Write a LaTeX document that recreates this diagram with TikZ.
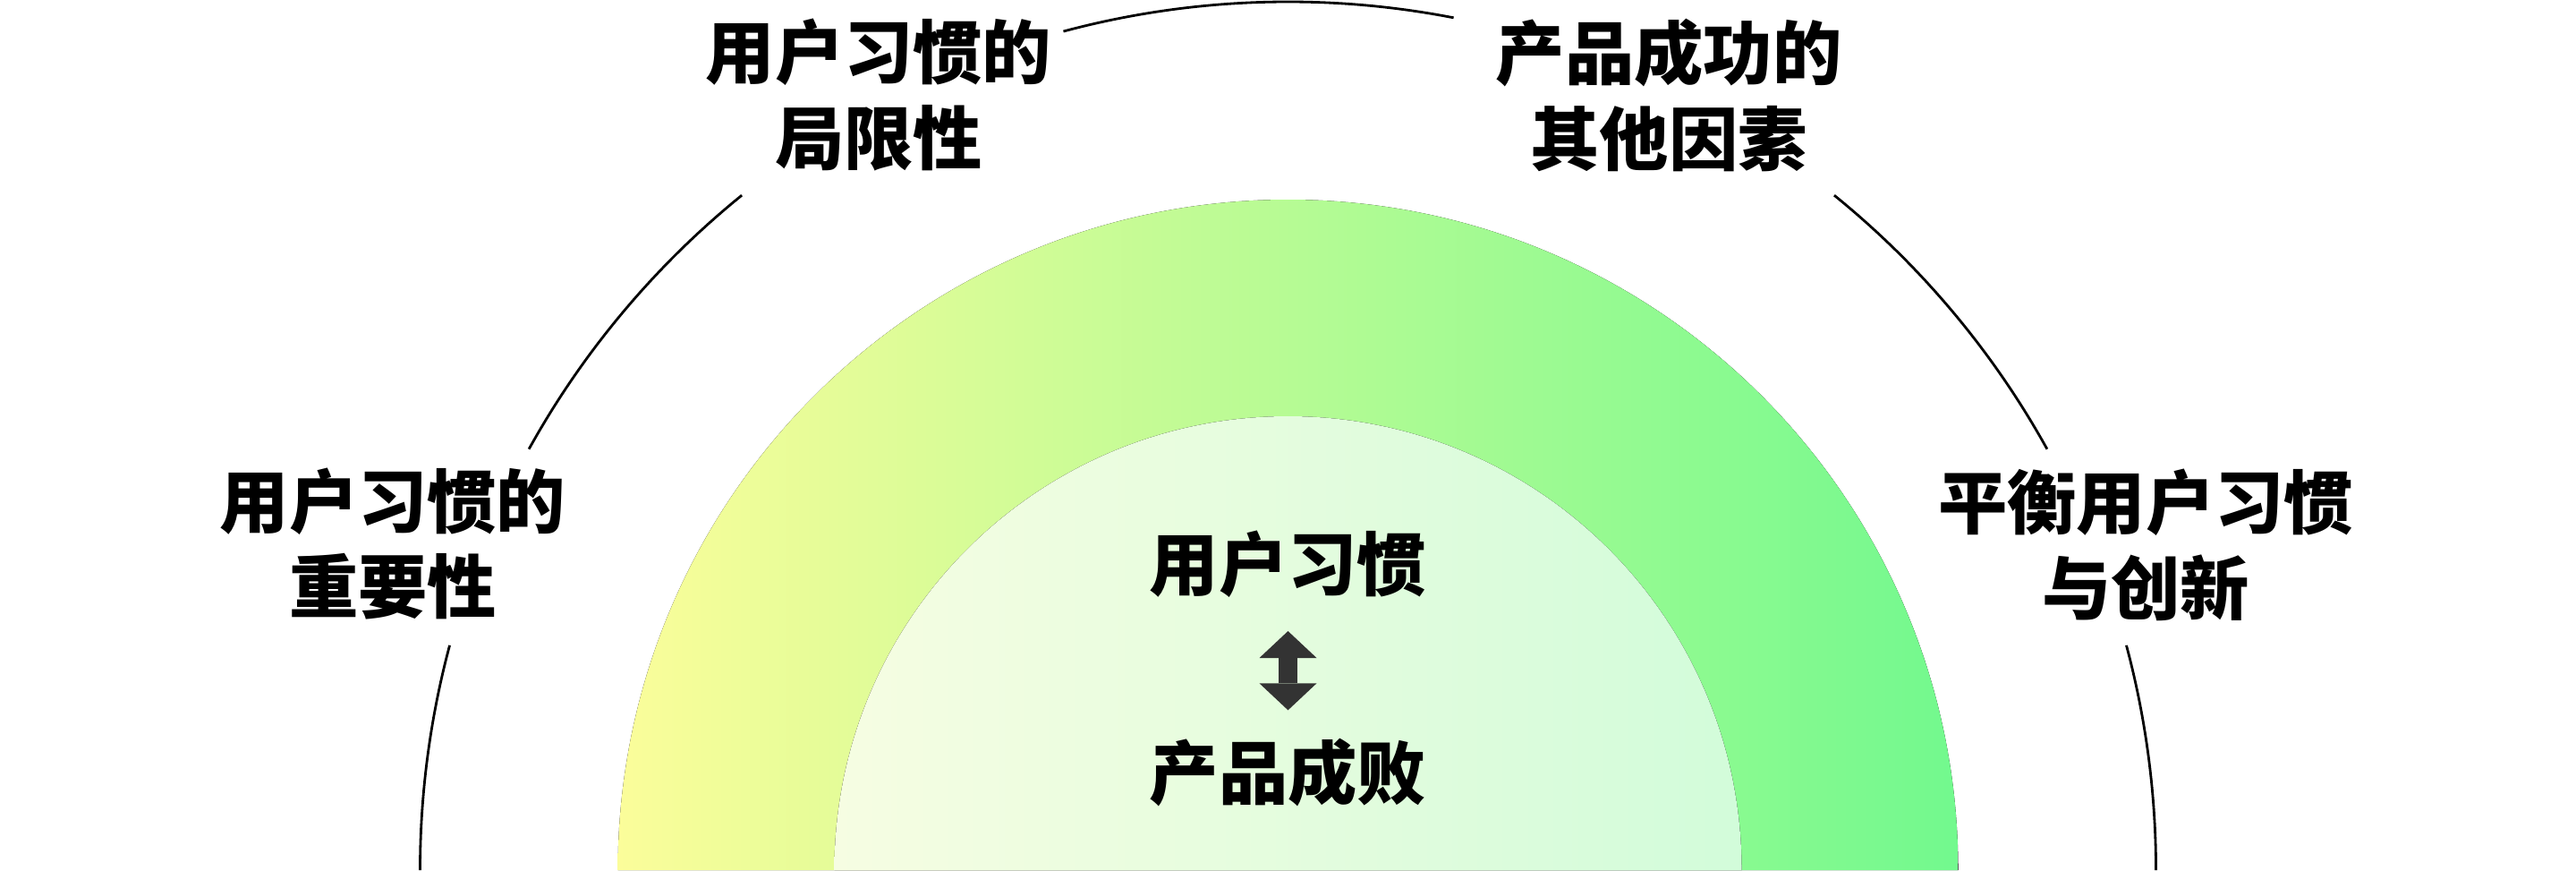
\documentclass[tikz,border=0pt]{standalone}
\usepackage{fontspec}
\usepackage{xcolor}
\usetikzlibrary{arrows.meta,positioning,calc}
\newfontfamily\cjk{Noto Sans CJK SC}
\definecolor{bandleft}{RGB}{251,253,154}
\definecolor{bandright}{RGB}{114,249,142}
\definecolor{coreleft}{RGB}{246,253,226}
\definecolor{coreright}{RGB}{210,252,218}
\definecolor{arrowgray}{RGB}{51,51,51}
\tikzset{
  lbl/.style={font=\cjk\bfseries\fontsize{22pt}{27.3pt}\selectfont, align=center, inner sep=0pt},
  ringline/.style={draw=black, line width=0.8pt},
  dblarrow/.style={arrowgray, line width=2.1mm,
    {Triangle[width=6.4mm,length=3mm,line width=0pt]}-{Triangle[width=6.4mm,length=3mm,line width=0pt]}}
}
\begin{document}
\begin{tikzpicture}
  \useasboundingbox (0,0) rectangle (28.79,9.72);
  \coordinate (O) at (14.395,0);

  % Colour rings
  \fill[left color=bandleft, right color=bandright]
    ([shift={(0:7.49)}]O) arc[start angle=0, end angle=180, radius=7.49] -- cycle;
  \fill[left color=coreleft, right color=coreright]
    ([shift={(0:5.07)}]O) arc[start angle=0, end angle=180, radius=5.07] -- cycle;

  % Outer ring, broken at the labels
  \foreach \a/\b in {0/15, 29/51, 79/105, 129/151, 165/180}
    \draw[ringline] ([shift={(\a:9.70)}]O) arc[start angle=\a, end angle=\b, radius=9.70];

  % Labels round the ring
  \node[lbl] (limits) at (9.82,8.66) {用户习惯的\\局限性};
  \node[lbl] (factors) at (18.65,8.66) {产品成功的\\其他因素};
  \node[lbl] (importance) at (4.39,3.645) {用户习惯的\\重要性};
  \node[lbl] (balance) at (23.98,3.63) {平衡用户习惯\\与创新};

  % Core
  \node[lbl] (habit) at (14.395,3.42) {用户习惯};
  \node[lbl] (outcome) at (14.395,1.09) {产品成败};
  \draw[dblarrow, shorten <=0.37cm, shorten >=0.31cm] (habit) -- (outcome);
\end{tikzpicture}
\end{document}
